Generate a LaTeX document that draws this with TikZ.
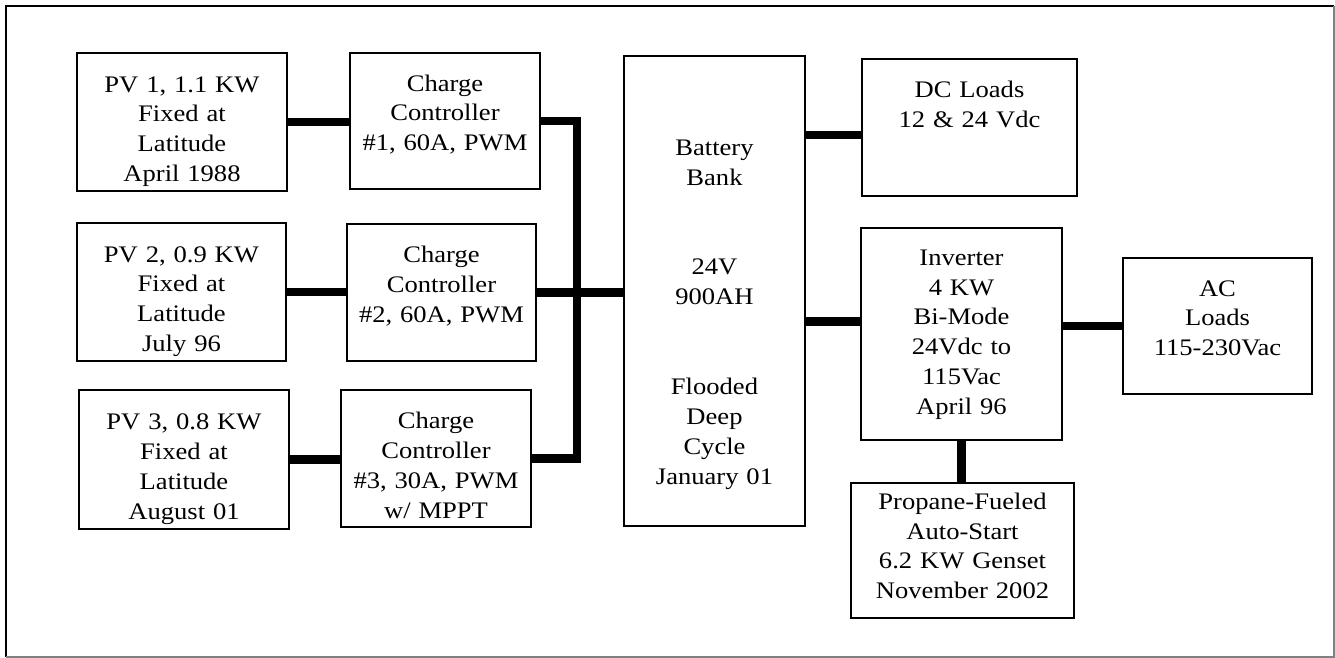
\documentclass[tikz,border=0pt]{standalone}
\usepackage{fontspec}
\setmainfont{Liberation Serif}[FakeStretch=1.12]
\tikzset{
  unit/.style={draw,line width=1pt,inner sep=0pt,text width=3.6cm,align=center,text height=0pt,text depth=1.2cm},
  cable/.style={line width=4.8pt}
}

\begin{document}
\begin{tikzpicture}[x=0.02cm,y=-0.02cm,font=\fontsize{13.5}{17.07}\selectfont]
  \useasboundingbox (0,0) rectangle (1335,658);
  % frame
  \draw[line width=1.2pt] (6,657) |- (1334,6);
  \draw[gray,line width=0.6pt] (6,657) -| (1334,6);
  % arrays and controllers
  \node[unit,minimum width=4.2cm,minimum height=2.76cm] (pv1) at (182,122) {PV 1, 1.1 KW\\Fixed at\\Latitude\\April 1988};
  \node[unit,minimum width=3.8cm,minimum height=2.72cm] (cc1) at (445,121) {Charge\\Controller\\\#1, 60A, PWM};
  \node[unit,minimum width=4.18cm,minimum height=2.76cm] (pv2) at (181.5,292) {PV 2, 0.9 KW\\Fixed at\\Latitude\\July 96};
  \node[unit,minimum width=3.78cm,minimum height=2.74cm] (cc2) at (441.5,292.5) {Charge\\Controller\\\#2, 60A, PWM};
  \node[unit,minimum width=4.2cm,minimum height=2.78cm] (pv3) at (184,459.5) {PV 3, 0.8 KW\\Fixed at\\Latitude\\August 01};
  \node[unit,minimum width=3.8cm,minimum height=2.74cm] (cc3) at (436,458.5) {Charge\\Controller\\\#3, 30A, PWM\\w/ MPPT};
  % storage and loads
  \node[unit,text depth=5.44cm,minimum width=3.62cm,minimum height=9.4cm] (batt) at (714.5,291) {Battery\\Bank\\[2\baselineskip]24V\\900AH\\[2\baselineskip]Flooded\\Deep\\Cycle\\January 01};
  \node[unit,minimum width=4.3cm,minimum height=2.74cm] (dc) at (969.5,127.5) {DC Loads\\12 \& 24 Vdc};
  \node[unit,text depth=2.76cm,minimum width=4.02cm,minimum height=4.24cm] (inv) at (961.5,334) {Inverter\\4 KW\\Bi-Mode\\24Vdc to\\115Vac\\April 96};
  \node[unit,minimum width=3.78cm,minimum height=2.72cm] (ac) at (1217.5,326) {AC\\Loads\\115-230Vac};
  \node[unit,text depth=1.66cm,minimum width=4.46cm,minimum height=2.7cm] (gen) at (962.5,550.5) {Propane-Fueled\\Auto-Start\\6.2 KW Genset\\November 2002};
  \coordinate (tap) at (577,291);
  % wiring
  \draw[cable] (pv1.east) -- (pv1.east -| cc1.west);
  \draw[cable] (pv2.east) -- (pv2.east -| cc2.west);
  \draw[cable] (pv3.east) -- (pv3.east -| cc3.west);
  \draw[cable] (cc1.east) -| (tap) |- (cc3.east);
  \draw[cable] (cc2.east) -- (cc2.east -| batt.west);
  \draw[cable] (dc.184) -- (dc.184 -| batt.east);
  \draw[cable] (inv.173) -- (inv.173 -| batt.east);
  \draw[cable] (ac.west) -- (ac.west -| inv.east);
  \draw[cable] (inv.south) -- (inv.south |- gen.north);
\end{tikzpicture}
\end{document}
